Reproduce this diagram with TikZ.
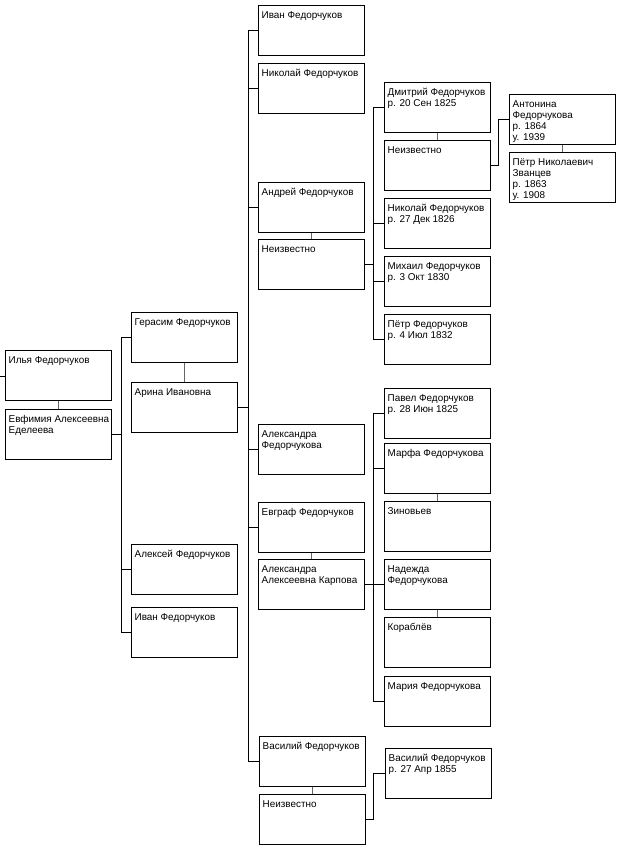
\documentclass[tikz,border=0pt]{standalone}
\usepackage{fontspec}
\setmainfont{Liberation Sans}
\begin{document}
\begin{tikzpicture}[x=1pt,y=-1pt,
  pbox/.style={draw=black,line width=0.9pt,minimum width=106pt,minimum height=50pt,anchor=north west,inner sep=0pt},
  ptext/.style={anchor=north west,align=left,inner sep=0pt,font=\fontsize{9.9}{11.2}\selectfont},
  tree/.style={draw=black,line width=0.9pt},
  spouse/.style={draw=black!60,line width=1.8pt}]
\useasboundingbox[fill=white] (0,0) rectangle (631,850);
\newcommand\pb[4]{\node[pbox] (#1) at (#2,#3) {};
  \node[ptext] (#1t) at ([xshift=3.5pt,yshift=-5.2pt]#1.north west) {\strut #4};}
% column 1
\pb{ilya}{5}{350}{Илья Федорчуков}
\pb{efim}{5}{409}{Евфимия Алексеевна\\Еделеева}
% column 2
\pb{geras}{131}{312}{Герасим Федорчуков}
\pb{arina}{131}{382}{Арина Ивановна}
\pb{aleks}{131}{544}{Алексей Федорчуков}
\pb{ivantwo}{131}{607}{Иван Федорчуков}
% column 3
\pb{ivanthree}{258}{5}{Иван Федорчуков}
\pb{nikol}{258}{63}{Николай Федорчуков}
\pb{andr}{258}{182}{Андрей Федорчуков}
\pb{neizone}{258}{239}{Неизвестно}
\pb{alexa}{258}{424}{Александра\\Федорчукова}
\pb{evgr}{258}{502}{Евграф Федорчуков}
\pb{karp}{258}{559}{Александра\\Алексеевна Карпова}
\pb{vasil}{259}{736}{Василий Федорчуков}
\pb{neizthree}{259}{794}{Неизвестно}
% column 4
\pb{dmit}{384}{82}{Дмитрий Федорчуков\\р. 20 Сен 1825}
\pb{neiztwo}{384}{140}{Неизвестно}
\pb{nikfour}{384}{198}{Николай Федорчуков\\р. 27 Дек 1826}
\pb{mikh}{384}{256}{Михаил Федорчуков\\р. 3 Окт 1830}
\pb{petr}{384}{314}{Пётр Федорчуков\\р. 4 Июл 1832}
\pb{pavel}{384}{388}{Павел Федорчуков\\р. 28 Июн 1825}
\pb{marfa}{384}{443}{Марфа Федорчукова}
\pb{zinov}{384}{501}{Зиновьев}
\pb{nadezh}{384}{559}{Надежда\\Федорчукова}
\pb{korab}{384}{617}{Кораблёв}
\pb{maria}{384}{676}{Мария Федорчукова}
\pb{vasfour}{385}{748}{Василий Федорчуков\\р. 27 Апр 1855}
% column 5
\pb{anton}{509}{94}{Антонина\\Федорчукова\\р. 1864\\у. 1939}
\pb{petrn}{509}{152}{Пётр Николаевич\\Званцев\\р. 1863\\у. 1908}
% bus coordinates
\coordinate (bone) at (121,0);
\coordinate (btwo) at (248,0);
\coordinate (bthree) at (373,0);
\coordinate (bfour) at (498,0);
\coordinate (stub) at (0,376);
% spouse links
\draw[spouse] (ilya.south) -- (efim.north);
\draw[spouse] (geras.south) -- (arina.north);
\draw[spouse] (andr.south) -- (neizone.north);
\draw[spouse] (evgr.south) -- (karp.north);
\draw[spouse] (vasil.south) -- (neizthree.north);
\draw[spouse] (dmit.south) -- (neiztwo.north);
\draw[spouse] (marfa.south) -- (zinov.north);
\draw[spouse] (nadezh.south) -- (korab.north);
\draw[spouse] (anton.south) -- (petrn.north);
% stub
\draw[tree] (stub) -- (stub -| ilya.west);
% family 1
\draw[tree] (efim.east) -- (efim.east -| bone);
\draw[tree] (geras.west) -- (geras.west -| bone) -- (ivantwo.west -| bone) -- (ivantwo.west);
\draw[tree] (aleks.west) -- (aleks.west -| bone);
% family 2
\draw[tree] (arina.east) -- (arina.east -| btwo);
\draw[tree] (ivanthree.west) -- (ivanthree.west -| btwo) -- (vasil.west -| btwo) -- (vasil.west);
\draw[tree] (nikol.west) -- (nikol.west -| btwo);
\draw[tree] (andr.west) -- (andr.west -| btwo);
\draw[tree] (alexa.west) -- (alexa.west -| btwo);
\draw[tree] (evgr.west) -- (evgr.west -| btwo);
% family 3
\draw[tree] (neizone.east) -- (neizone.east -| bthree);
\draw[tree] (dmit.west) -- (dmit.west -| bthree) -- (petr.west -| bthree) -- (petr.west);
\draw[tree] (nikfour.west) -- (nikfour.west -| bthree);
\draw[tree] (mikh.west) -- (mikh.west -| bthree);
% family 4
\draw[tree] (neiztwo.east) -- (neiztwo.east -| bfour) -- (anton.west -| bfour) -- (anton.west);
% family 5
\draw[tree] (karp.east) -- (karp.east -| bthree);
\draw[tree] (pavel.west) -- (pavel.west -| bthree) -- (maria.west -| bthree) -- (maria.west);
\draw[tree] (marfa.west) -- (marfa.west -| bthree);
\draw[tree] (nadezh.west) -- (nadezh.west -| bthree);
% family 6
\draw[tree] (neizthree.east) -- (neizthree.east -| bthree) -- (vasfour.west -| bthree) -- (vasfour.west);
\end{tikzpicture}
\end{document}
